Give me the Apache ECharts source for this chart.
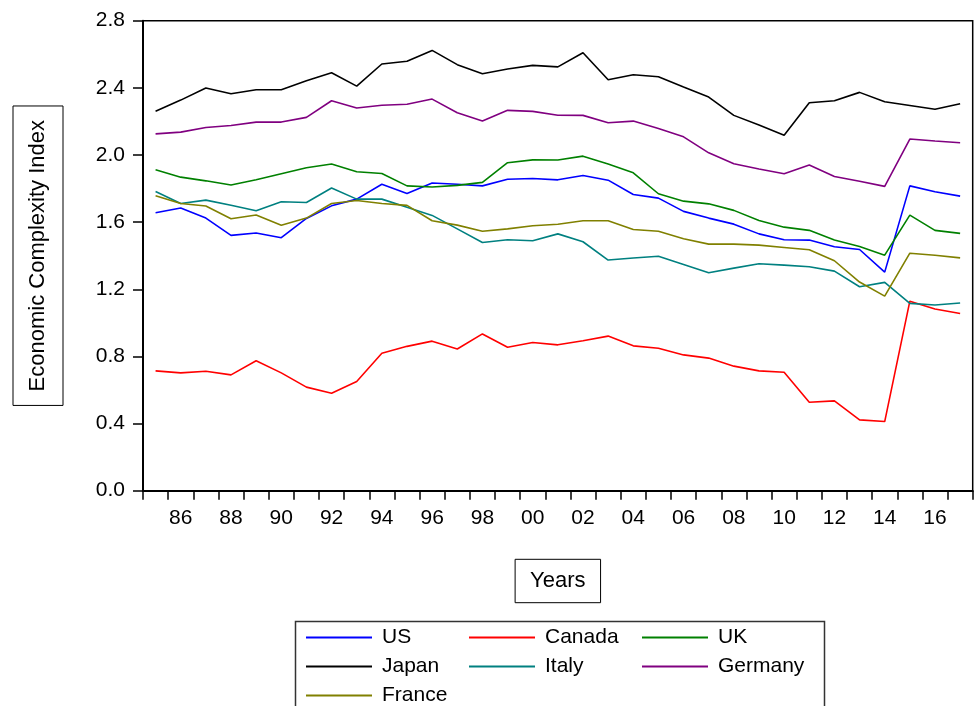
<!DOCTYPE html>
<html>
<head>
<meta charset="utf-8">
<script src="https://cdn.jsdelivr.net/npm/echarts@6/dist/echarts.min.js"></script>
<style>
html, body { margin: 0; padding: 0; background: #fff; }
#chart { width: 975px; height: 706px; }
</style>
</head>
<body>
<div id="chart"></div>
<script>
const years = [1985,1986,1987,1988,1989,1990,1991,1992,1993,1994,1995,1996,1997,1998,1999,2000,2001,2002,2003,2004,2005,2006,2007,2008,2009,2010,2011,2012,2013,2014,2015,2016,2017];
const yTicks = [0.0, 0.4, 0.8, 1.2, 1.6, 2.0, 2.4, 2.8];

const US      = [1.656,1.684,1.624,1.521,1.535,1.507,1.622,1.697,1.737,1.826,1.771,1.833,1.826,1.816,1.855,1.860,1.852,1.878,1.850,1.765,1.743,1.664,1.624,1.588,1.530,1.495,1.493,1.453,1.437,1.302,1.816,1.781,1.755];
const Canada  = [0.714,0.702,0.712,0.690,0.774,0.702,0.617,0.581,0.651,0.819,0.860,0.891,0.844,0.934,0.855,0.883,0.869,0.893,0.921,0.863,0.849,0.809,0.790,0.742,0.714,0.706,0.527,0.535,0.422,0.412,1.129,1.082,1.056];
const UK      = [1.912,1.868,1.846,1.821,1.852,1.888,1.924,1.946,1.900,1.890,1.816,1.809,1.819,1.837,1.954,1.971,1.970,1.993,1.946,1.894,1.769,1.725,1.709,1.670,1.610,1.570,1.551,1.493,1.455,1.403,1.642,1.551,1.533];
const Japan   = [2.260,2.327,2.399,2.365,2.389,2.389,2.442,2.490,2.410,2.542,2.558,2.623,2.538,2.484,2.512,2.534,2.525,2.609,2.448,2.478,2.466,2.405,2.345,2.236,2.178,2.117,2.311,2.323,2.373,2.317,2.295,2.272,2.305];
const Italy   = [1.783,1.711,1.731,1.701,1.668,1.721,1.717,1.803,1.737,1.737,1.688,1.640,1.560,1.479,1.495,1.489,1.530,1.483,1.374,1.386,1.397,1.348,1.298,1.326,1.352,1.344,1.334,1.308,1.215,1.241,1.116,1.106,1.118];
const Germany = [2.126,2.136,2.164,2.176,2.196,2.196,2.224,2.323,2.280,2.296,2.302,2.333,2.252,2.202,2.266,2.260,2.237,2.236,2.192,2.202,2.158,2.108,2.013,1.948,1.916,1.888,1.940,1.872,1.844,1.813,2.095,2.083,2.073];
const France  = [1.757,1.711,1.696,1.620,1.642,1.582,1.624,1.711,1.729,1.711,1.700,1.608,1.582,1.546,1.560,1.578,1.587,1.608,1.608,1.556,1.546,1.501,1.469,1.469,1.463,1.449,1.435,1.370,1.243,1.159,1.415,1.403,1.387];

const seriesNames = ['US','Canada','UK','Japan','Italy','Germany','France'];
const seriesData = [US, Canada, UK, Japan, Italy, Germany, France];
const seriesColors = ['#0000FF','#FF0000','#008000','#000000','#008080','#800080','#808000'];

const FONT = '"Liberation Sans", Arial, sans-serif';
const chart = echarts.init(document.getElementById('chart'), null, {renderer: 'canvas'});

const legendCommon = {
  orient: 'vertical',
  icon: 'rect',
  itemWidth: 66,
  itemHeight: 2,
  itemGap: 8,
  padding: 0,
  top: 627,
  selectedMode: false,
  textStyle: { fontSize: 21, color: '#000', fontFamily: FONT, lineHeight: 20, padding: [0,0,0,5] }
};

const option = {
  animation: false,
  backgroundColor: '#fff',
  textStyle: { fontFamily: FONT },
  grid: {
    left: 143, right: 2.3, top: 20.7, bottom: 215.3,
    show: true, borderColor: '#000', borderWidth: 1.5, backgroundColor: 'transparent'
  },
  legend: [
    Object.assign({}, legendCommon, { left: 306, data: ['US','Japan','France'] }),
    Object.assign({}, legendCommon, { left: 469, data: ['Canada','Italy'] }),
    Object.assign({}, legendCommon, { left: 642, data: ['UK','Germany'] })
  ],
  graphic: [{
    type: 'rect',
    left: 293, top: 619,
    shape: { width: 529, height: 110 },
    style: { fill: 'none', stroke: '#333', lineWidth: 1.5 },
    silent: true
  }],
  xAxis: {
    type: 'category',
    data: years.map(y => String(y % 100).padStart(2, '0')),
    boundaryGap: true,
    name: 'Years',
    nameLocation: 'middle',
    nameGap: 68.6,
    nameTextStyle: {
      fontSize: 22, color: '#000', fontFamily: FONT, lineHeight: 22,
      borderColor: '#000', borderWidth: 1, padding: [10.7, 15, 10.7, 15]
    },
    axisLine: { show: true, lineStyle: { color: '#000', width: 2 } },
    axisTick: { show: true, interval: 0, length: 9, inside: false, lineStyle: { color: '#000', width: 1.5 } },
    axisLabel: {
      interval: (index) => index % 2 === 1,
      fontSize: 21, color: '#000', fontFamily: FONT, margin: 17
    },
    splitLine: { show: false }
  },
  yAxis: {
    type: 'value',
    min: yTicks[0], max: yTicks[yTicks.length - 1], interval: 0.4,
    name: 'Economic Complexity Index',
    nameLocation: 'middle',
    nameRotate: 90,
    nameGap: 80,
    nameTextStyle: {
      fontSize: 22, color: '#000', fontFamily: FONT, lineHeight: 22,
      borderColor: '#000', borderWidth: 1, padding: [14, 14, 14, 14]
    },
    axisLine: { show: true, lineStyle: { color: '#000', width: 2 } },
    axisTick: { show: true, length: 10, inside: false, lineStyle: { color: '#000', width: 1.5 } },
    axisLabel: {
      formatter: (v) => v.toFixed(1),
      fontSize: 21, color: '#000', fontFamily: FONT, margin: 18
    },
    splitLine: { show: false }
  },
  series: seriesNames.map((name, i) => ({
    name: name,
    type: 'line',
    data: seriesData[i],
    symbol: 'none',
    color: seriesColors[i],
    lineStyle: { width: 1.6, color: seriesColors[i] },
    emphasis: { disabled: true }
  }))
};

chart.setOption(option);
</script>
</body>
</html>
